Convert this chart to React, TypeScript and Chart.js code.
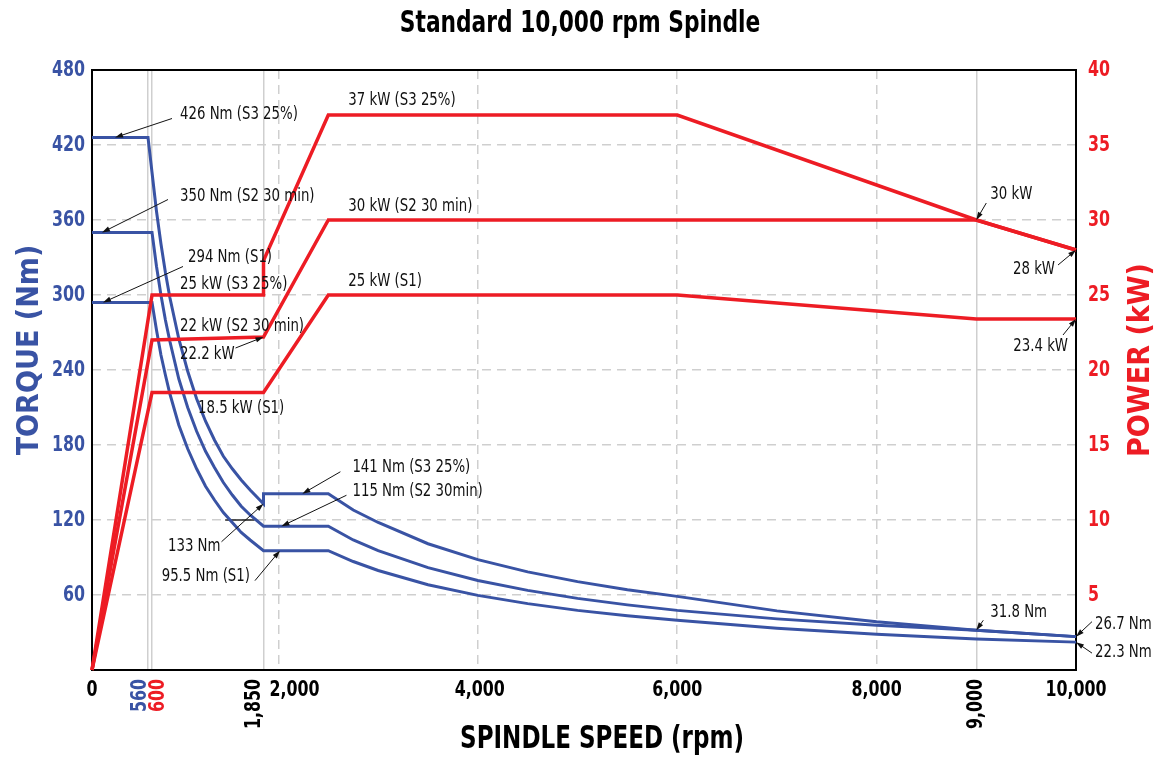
import React, { useEffect, useRef } from 'react';
import { Chart, registerables, LinearScale } from 'chart.js';

Chart.register(...registerables);

// ---------------- data ----------------
const speedTickValues = [0, 560, 600, 1850, 2000, 4000, 6000, 8000, 9000, 10000];
const dashedSpeedTicks = [2000, 4000, 6000, 8000];
const torqueTickValues = [60, 120, 180, 240, 300, 360, 420, 480];
const powerTickValues = [5, 10, 15, 20, 25, 30, 35, 40];
const speedLabels = [
  { value: 0, text: '0', color: 'black', vertical: false, shift: 0 },
  { value: 560, text: '560', color: 'blue', vertical: true, shift: -8 },
  { value: 600, text: '600', color: 'red', vertical: true, shift: 6 },
  { value: 1850, text: '1,850', color: 'black', vertical: true, shift: -9 },
  { value: 2000, text: '2,000', color: 'black', vertical: false, shift: 16 },
  { value: 4000, text: '4,000', color: 'black', vertical: false, shift: 2 },
  { value: 6000, text: '6,000', color: 'black', vertical: false, shift: 0 },
  { value: 8000, text: '8,000', color: 'black', vertical: false, shift: 0 },
  { value: 9000, text: '9,000', color: 'black', vertical: true, shift: 0 },
  { value: 10000, text: '10,000', color: 'black', vertical: false, shift: 0 },
];

// rpm, Nm
const torqueS3 = [
  [0, 426], [560, 426], [600, 398], [650, 367], [700, 341], [750, 318], [800, 298],
  [900, 265], [1000, 239], [1100, 217], [1200, 199], [1300, 184], [1400, 171],
  [1500, 161], [1600, 152], [1700, 144], [1850, 133], [1850, 141], [2500, 141],
  [2750, 128], [3000, 118], [3500, 101], [4000, 88.3], [4500, 78.5], [5000, 70.7],
  [5500, 64.2], [6000, 58.9], [7000, 47.3], [8000, 38.6], [9000, 31.8], [10000, 26.7],
];
const torqueS2 = [
  [0, 350], [600, 350], [650, 323], [700, 300], [750, 280], [800, 263], [900, 233],
  [1000, 210], [1100, 191], [1200, 175], [1300, 162], [1400, 150], [1500, 140],
  [1600, 131], [1700, 124], [1850, 115], [2500, 115], [2750, 104], [3000, 95.5],
  [3500, 81.9], [4000, 71.6], [4500, 63.7], [5000, 57.3], [5500, 52.1], [6000, 47.7],
  [7000, 40.9], [8000, 35.8], [9000, 31.8], [10000, 26.7],
];
const torqueS1 = [
  [0, 294], [600, 294], [650, 272], [700, 252], [750, 236], [800, 221], [900, 196],
  [1000, 177], [1100, 161], [1200, 147], [1300, 136], [1400, 126], [1500, 118],
  [1600, 110], [1700, 104], [1850, 95.5], [2500, 95.5], [2750, 86.8], [3000, 79.6],
  [3500, 68.2], [4000, 59.7], [4500, 53.1], [5000, 47.7], [5500, 43.4], [6000, 39.8],
  [7000, 33.4], [8000, 28.6], [9000, 24.8], [10000, 22.3],
];
// rpm, kW
const powerS3 = [[0, 0], [600, 25], [1850, 25], [1850, 27.3], [2500, 37], [6000, 37], [9000, 30], [10000, 28]];
const powerS2 = [[0, 0], [600, 22], [1850, 22.2], [2500, 30], [9000, 30], [10000, 28]];
const powerS1 = [[0, 0], [600, 18.5], [1850, 18.5], [2500, 25], [6000, 25], [9000, 23.4], [10000, 23.4]];

// short dark leader segment on the 120 Nm grid line (rpm range)
const leaderSegment = { from: 1420, to: 1750, y: 120 };

// callouts: anchor in data units, tail / text offsets in px from anchor
const notes = [
  { text: '426 Nm (S3 25%)', x: 230, y: 426, axis: 'y', tail: [57, -19], at: [65, -23] },
  { text: '350 Nm (S2 30 min)', x: 100, y: 350, axis: 'y', tail: [66, -33], at: [78, -36] },
  { text: '294 Nm (S1)', x: 110, y: 294, axis: 'y', tail: [80, -36], at: [85, -45] },
  { text: '25 kW (S3 25%)', x: 600, y: 25, axis: 'y1', at: [28, -10] },
  { text: '22 kW (S2 30 min)', x: 600, y: 22, axis: 'y1', at: [28, -13] },
  { text: '22.2 kW', x: 1850, y: 22.2, axis: 'y1', tail: [-28, 11], at: [-83.5, 18] },
  { text: '18.5 kW (S1)', x: 600, y: 18.5, axis: 'y1', at: [46, 16] },
  { text: '37 kW (S3 25%)', x: 2500, y: 37, axis: 'y1', at: [20, -14] },
  { text: '30 kW (S2 30 min)', x: 2500, y: 30, axis: 'y1', at: [20, -13] },
  { text: '25 kW (S1)', x: 2500, y: 25, axis: 'y1', at: [20, -13] },
  { text: '141 Nm (S3 25%)', x: 2240, y: 141, axis: 'y', tail: [38, -22], at: [50, -26] },
  { text: '115 Nm (S2 30min)', x: 2030, y: 115, axis: 'y', tail: [65, -31], at: [71, -35] },
  { text: '133 Nm', x: 1850, y: 133, axis: 'y', tail: [-42, 38], at: [-43, 43], align: 'right' },
  { text: '95.5 Nm (S1)', x: 2015, y: 95.5, axis: 'y', tail: [-25, 30], at: [-30, 26], align: 'right' },
  { text: '31.8 Nm', x: 9000, y: 31.8, axis: 'y', tail: [7, -10], at: [14, -18] },
  { text: '26.7 Nm', x: 10000, y: 26.7, axis: 'y', tail: [16, -15], at: [19, -12] },
  { text: '22.3 Nm', x: 10000, y: 22.3, axis: 'y', tail: [16, 11], at: [19, 10] },
  { text: '30 kW', x: 9000, y: 30, axis: 'y1', tail: [10, -17], at: [14, -25] },
  { text: '28 kW', x: 10000, y: 28, axis: 'y1', tail: [-18, 15], at: [-21, 20], align: 'right' },
  { text: '23.4 kW', x: 10000, y: 23.4, axis: 'y1', tail: [-13, 16], at: [-8, 28], align: 'right' },
];

// ---------------- style ----------------
const NARROW = "'Liberation Sans Narrow', 'DejaVu Sans Condensed', 'Arial Narrow', sans-serif";
const BLUE = '#3953a4';
const RED = '#ed1c24';
const GRID = '#cfcfcf';
const colorOf: Record<string, string> = { blue: BLUE, red: RED, black: '#000' };

// speed axis of the reference is not uniform near the origin
const speedBreaks = [0, 600, 1850, 10000];
const speedBreakFractions = [0, 0.061, 0.1743, 1];

function speedToFraction(v: number) {
  const n = speedBreaks.length;
  for (let i = 1; i < n; i++) {
    if (v <= speedBreaks[i] || i === n - 1) {
      const a = speedBreaks[i - 1], b = speedBreaks[i];
      const fa = speedBreakFractions[i - 1], fb = speedBreakFractions[i];
      return fa + ((v - a) / (b - a)) * (fb - fa);
    }
  }
  return 0;
}
function fractionToSpeed(f: number) {
  const n = speedBreakFractions.length;
  for (let i = 1; i < n; i++) {
    if (f <= speedBreakFractions[i] || i === n - 1) {
      const a = speedBreakFractions[i - 1], b = speedBreakFractions[i];
      const va = speedBreaks[i - 1], vb = speedBreaks[i];
      return va + ((f - a) / (b - a)) * (vb - va);
    }
  }
  return 0;
}

class SpeedScale extends (LinearScale as any) {
  static id = 'speed';
  static defaults = (LinearScale as any).defaults;
  getPixelForValue(value: number) {
    return (this as any).getPixelForDecimal(speedToFraction(value));
  }
  getValueForPixel(pixel: number) {
    return fractionToSpeed((this as any).getDecimalForPixel(pixel));
  }
}
Chart.register(SpeedScale as any);

function txt(
  ctx: CanvasRenderingContext2D, s: string, x: number, y: number, font: string, color: string,
  align: CanvasTextAlign, baseline: CanvasTextBaseline, sx: number, rot = 0,
) {
  ctx.save();
  ctx.translate(x, y);
  if (rot) ctx.rotate(rot);
  ctx.scale(sx, 1);
  ctx.font = font;
  ctx.fillStyle = color;
  ctx.textAlign = align;
  ctx.textBaseline = baseline;
  ctx.fillText(s, 0, 0);
  ctx.restore();
}

function arrow(ctx: CanvasRenderingContext2D, x1: number, y1: number, x2: number, y2: number) {
  const ang = Math.atan2(y2 - y1, x2 - x1);
  const len = 8, half = 2.6;
  ctx.beginPath();
  ctx.moveTo(x1, y1);
  ctx.lineTo(x2 - Math.cos(ang) * len * 0.6, y2 - Math.sin(ang) * len * 0.6);
  ctx.stroke();
  ctx.beginPath();
  ctx.moveTo(x2, y2);
  ctx.lineTo(x2 - Math.cos(ang) * len + Math.sin(ang) * half, y2 - Math.sin(ang) * len - Math.cos(ang) * half);
  ctx.lineTo(x2 - Math.cos(ang) * len - Math.sin(ang) * half, y2 - Math.sin(ang) * len + Math.cos(ang) * half);
  ctx.closePath();
  ctx.fill();
}

const TICK_FONT = `bold 22px ${NARROW}`;
const TICK_SX = 0.8;

const decor = {
  id: 'decor',
  beforeDatasetsDraw(chart: any) {
    const { ctx, chartArea: a, scales } = chart;
    ctx.save();
    ctx.strokeStyle = '#000';
    ctx.lineWidth = 2;
    ctx.strokeRect(a.left, a.top, a.right - a.left, a.bottom - a.top);
    const ly = scales.y.getPixelForValue(leaderSegment.y);
    ctx.lineWidth = 1.5;
    ctx.strokeStyle = '#222';
    ctx.beginPath();
    ctx.moveTo(scales.x.getPixelForValue(leaderSegment.from), ly);
    ctx.lineTo(scales.x.getPixelForValue(leaderSegment.to), ly);
    ctx.stroke();
    ctx.restore();
  },
  afterDatasetsDraw(chart: any) {
    const { ctx, scales } = chart;
    ctx.save();
    ctx.fillStyle = '#111';
    ctx.strokeStyle = '#111';
    ctx.lineWidth = 1;
    for (const n of notes as any[]) {
      const px = scales.x.getPixelForValue(n.x);
      const py = scales[n.axis].getPixelForValue(n.y);
      if (n.tail) arrow(ctx, px + n.tail[0], py + n.tail[1], px, py);
      txt(ctx, n.text, px + n.at[0], py + n.at[1], `17px ${NARROW}`, '#111', n.align || 'left', 'middle', 0.87);
    }
    ctx.restore();
  },
  afterDraw(chart: any) {
    const { ctx, scales, chartArea: a } = chart;
    // value axis labels
    for (const v of torqueTickValues) {
      txt(ctx, String(v), a.left - 7, scales.y.getPixelForValue(v), TICK_FONT, BLUE, 'right', 'middle', TICK_SX);
    }
    for (const v of powerTickValues) {
      txt(ctx, String(v), a.right + 12, scales.y1.getPixelForValue(v), TICK_FONT, RED, 'left', 'middle', TICK_SX);
    }
    // speed labels
    const top = a.bottom + 9;
    for (const l of speedLabels) {
      const px = scales.x.getPixelForValue(l.value) + l.shift;
      if (l.vertical) {
        txt(ctx, l.text, px, top, TICK_FONT, colorOf[l.color], 'right', 'middle', TICK_SX, -Math.PI / 2);
      } else {
        txt(ctx, l.text, px, top, TICK_FONT, colorOf[l.color], 'center', 'top', TICK_SX);
      }
    }
    // titles
    txt(ctx, 'Standard 10,000 rpm Spindle', 580, 24, `bold 31px ${NARROW}`, '#000', 'center', 'middle', 0.78);
    txt(ctx, 'SPINDLE SPEED (rpm)', 602, 740, `bold 32px ${NARROW}`, '#000', 'center', 'middle', 0.8);
    txt(ctx, 'TORQUE (Nm)', 30, 350, `bold 31px ${NARROW}`, BLUE, 'center', 'middle', 0.97, -Math.PI / 2);
    txt(ctx, 'POWER (kW)', 1141, 360, `bold 31px ${NARROW}`, RED, 'center', 'middle', 0.97, -Math.PI / 2);
  },
};

function series(label: string, pts: number[][], color: string, axis: string, order: number, width: number) {
  return {
    label,
    data: pts.map(([x, y]) => ({ x, y })),
    borderColor: color,
    backgroundColor: color,
    borderWidth: width,
    pointRadius: 0,
    fill: false,
    tension: 0,
    yAxisID: axis,
    xAxisID: 'x',
    order,
    clip: false,
    borderJoinStyle: 'miter',
  };
}

export default function App() {
  const ref = useRef<HTMLCanvasElement | null>(null);
  useEffect(() => {
    if (!ref.current) return;
    const chart = new Chart(ref.current, {
      type: 'line',
      data: {
        datasets: [
          series('Power S3 25%', powerS3, RED, 'y1', 0, 3.5),
          series('Power S2 30 min', powerS2, RED, 'y1', 0, 3.5),
          series('Power S1', powerS1, RED, 'y1', 0, 3.5),
          series('Torque S3 25%', torqueS3, BLUE, 'y', 1, 3),
          series('Torque S2 30 min', torqueS2, BLUE, 'y', 1, 3),
          series('Torque S1', torqueS1, BLUE, 'y', 1, 3),
        ] as any,
      },
      options: {
        responsive: false,
        animation: false,
        devicePixelRatio: 1,
        events: [],
        layout: { padding: { top: 70, left: 0, right: 0, bottom: 0 } },
        plugins: { legend: { display: false }, tooltip: { enabled: false }, title: { display: false } },
        scales: {
          x: {
            type: 'speed' as any,
            min: 0,
            max: 10000,
            afterBuildTicks: (s: any) => { s.ticks = speedTickValues.map((v) => ({ value: v })); },
            afterFit: (s: any) => { s.height = 88; },
            ticks: { display: false },
            grid: {
              drawTicks: false,
              lineWidth: 1.5,
              color: (c: any) => (c.tick && (c.tick.value === 0 || c.tick.value === 10000) ? 'rgba(0,0,0,0)' : GRID),
            },
            border: {
              display: false,
              dash: (c: any) => (c.tick && dashedSpeedTicks.includes(c.tick.value) ? [9, 6] : []),
            },
          } as any,
          y: {
            type: 'linear',
            position: 'left',
            min: 0,
            max: 480,
            afterFit: (s: any) => { s.width = 92; },
            ticks: { stepSize: 60, display: false },
            grid: {
              drawTicks: false,
              lineWidth: 1.5,
              color: (c: any) => (c.tick && (c.tick.value === 0 || c.tick.value === 480) ? 'rgba(0,0,0,0)' : GRID),
            },
            border: { display: false, dash: [9, 6] },
          } as any,
          y1: {
            type: 'linear',
            position: 'right',
            min: 0,
            max: 40,
            afterFit: (s: any) => { s.width = 88; },
            ticks: { stepSize: 5, display: false },
            grid: { drawOnChartArea: false, drawTicks: false },
            border: { display: false },
          } as any,
        },
      },
      plugins: [decor as any],
    });
    return () => chart.destroy();
  }, []);
  return (
    <div style={{ position: 'absolute', left: 0, top: 0, width: 1164, height: 758, background: '#fff' }}>
      <canvas ref={ref} width={1164} height={758} style={{ display: 'block' }} />
    </div>
  );
}
